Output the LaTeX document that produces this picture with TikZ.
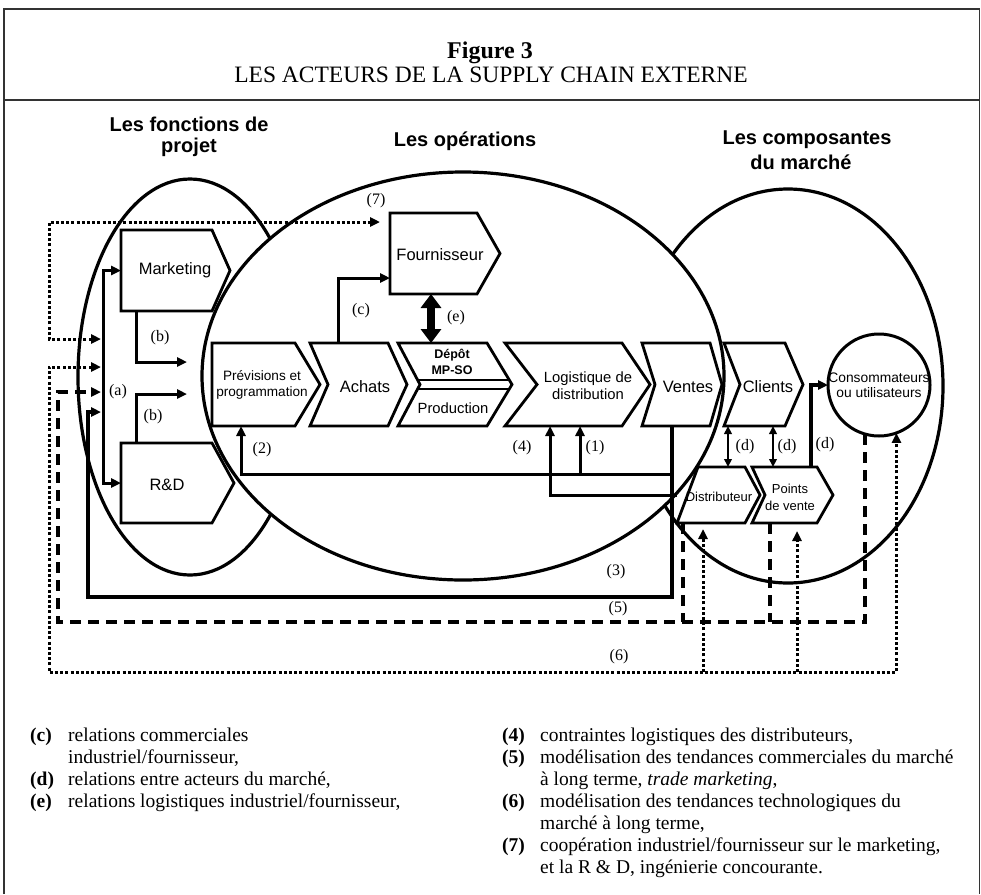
\documentclass[tikz,border=0pt]{standalone}
\usepackage{fontspec}
\setmainfont{Liberation Serif}
\newfontfamily\arialf{Liberation Sans}
\usetikzlibrary{arrows.meta,calc}
\newcommand\chevpath[3]{\draw[boxl] (#1.north west) -- (#1.north east) -- ($(#1.east)+(#3,0)$) -- (#1.south east) -- (#1.south west) -- ($(#1.west)+(#2,0)$) -- cycle;}
\tikzset{
 tri/.tip={Triangle[length=10pt,width=9pt]},
 stri/.tip={Triangle[length=8pt,width=7.5pt]},
 bigtri/.tip={Triangle[length=14pt,width=20pt]},
 ph/.style={inner sep=0pt, outer sep=0pt, draw=none},
 boxl/.style={line width=2.8pt, line join=miter, miter limit=20},
 ell/.style={line width=3.2pt},
 conn/.style={line width=3pt},
 thinc/.style={line width=2.4pt},
 thk/.style={line width=4.6pt},
 dotl/.style={line width=3pt, dash pattern=on 3pt off 2.2pt},
 dashl/.style={line width=3.4pt, dash pattern=on 11pt off 7pt},
 btxt/.style={font=\arialf\fontsize{16.5}{19}\selectfont, align=center, inner sep=0pt},
 mtxt/.style={font=\arialf\fontsize{14.8}{17}\selectfont, align=center, inner sep=0pt},
 stxt/.style={font=\arialf\fontsize{13.6}{16}\selectfont, align=center, inner sep=0pt},
 lab/.style={font=\fontsize{16}{18}\selectfont, inner sep=0pt},
 head/.style={font=\arialf\bfseries\fontsize{20}{23}\selectfont, anchor=base, inner sep=0pt},
 leg/.style={font=\fontsize{19.5}{22}\selectfont, anchor=base west, inner sep=0pt},
 legb/.style={font=\bfseries\fontsize{19.5}{22}\selectfont, anchor=base west, inner sep=0pt},
}
\begin{document}
\begin{tikzpicture}[x=1pt,y=-1pt]
\useasboundingbox (0,0) rectangle (981,894);
% frame
\draw[line width=1.8pt, draw=black!80] (4,894) -- (4,9) -- (979.5,9) -- (979.5,894);
\draw[line width=1.8pt, draw=black!80] (4,100) -- (979.5,100);
\node[font=\bfseries\fontsize{24}{28}\selectfont, anchor=base, inner sep=0pt] (fig) at (490,58) {Figure 3};
\node[font=\fontsize{23.5}{28}\selectfont, anchor=base, inner sep=0pt] (sub) at (491,82) {LES ACTEURS DE LA SUPPLY CHAIN EXTERNE};
% headings
\node[head] (h1a) at (189,131) {Les fonctions de};
\node[head] (h1b) at (189,152) {projet};
\node[head] (h2) at (465,146) {Les opérations};
\node[head] (h3a) at (807,144) {Les composantes};
\node[head] (h3b) at (801,169) {du marché};
% ellipses (left and right first, centre one on top, filled)
\draw[ell] (190,377) ellipse [x radius=112pt, y radius=198pt];
\draw[ell] (788,386) ellipse [x radius=155pt, y radius=197pt];
\draw[ell, fill=white] (463,376) ellipse [x radius=261pt, y radius=204pt];
% box placeholders
\node[ph, minimum width=83pt, minimum height=83pt] (prev) at (253.5,384.5) {};
\node[ph, minimum width=78pt, minimum height=83pt] (ach) at (349,384.5) {};
\node[ph, minimum width=89pt, minimum height=83pt] (dep) at (442.5,384.5) {};
\node[ph, minimum width=117pt, minimum height=83pt] (log) at (563.5,384.5) {};
\node[ph, minimum width=68pt, minimum height=83pt] (ven) at (676,384.5) {};
\node[ph, minimum width=61pt, minimum height=83pt] (cli) at (754.5,384.5) {};
\node[ph, minimum width=87pt, minimum height=81pt] (four) at (433.5,253.5) {};
\node[ph, minimum width=91pt, minimum height=81pt] (mkt) at (166.5,270.5) {};
\node[ph, minimum width=91pt, minimum height=80pt] (rd) at (166.5,483) {};
\node[ph, minimum width=65pt, minimum height=56pt] (pdv) at (784.5,495) {};
\node[ph, minimum width=68pt, minimum height=56pt] (dist) at (711,495) {};
\node[circle, draw, line width=3pt, minimum size=102pt, inner sep=0pt, outer sep=0pt] (cons) at (879,385) {};
% shapes
\chevpath{prev}{0}{25}
\chevpath{ach}{18}{19}
\chevpath{dep}{22}{25}
\chevpath{log}{32}{28}
\chevpath{ven}{13}{12}
\chevpath{cli}{16}{18}
\chevpath{four}{0}{23}
\chevpath{mkt}{0}{18}
\chevpath{rd}{0}{22}
\chevpath{pdv}{13}{16}
\draw[boxl] ($(dist.north west)+(21,0)$) -- (dist.north east) -- ($(dist.east)+(15,0)$) -- (dist.south east) -- (dist.south west) -- cycle;
\draw[boxl] ($(dep.west)+(19.6,-4.5)$) -- ($(dep.east)+(22.3,-4.5)$);
\draw[boxl] ($(dep.west)+(19.6,4.5)$) -- ($(dep.east)+(22.3,4.5)$);
% texts
\node[stxt] (prevT) at (262,385) {Prévisions et\\programmation};
\node[btxt] (achT) at (365,387) {Achats};
\node[font=\arialf\bfseries\fontsize{12.5}{16}\selectfont, align=center, inner sep=0pt] (depT) at (452,362) {Dépôt\\MP-SO};
\node[mtxt] (prodT) at (453,408) {Production};
\node[mtxt] (logT) at (588,386) {Logistique de\\distribution};
\node[btxt] (venT) at (688,387) {Ventes};
\node[btxt] (cliT) at (768,387) {Clients};
\node[btxt] (fourT) at (440,255) {Fournisseur};
\node[btxt] (mktT) at (175,270) {Marketing};
\node[btxt] (rdT) at (167,485) {R\&D};
\node[font=\arialf\fontsize{13}{17}\selectfont, inner sep=0pt] (distT) at (719,497) {Distributeur};
\node[font=\arialf\fontsize{13}{17}\selectfont, align=center, inner sep=0pt] (pdvT) at (790,497) {Points\\de vente};
\node[font=\arialf\fontsize{13.8}{15}\selectfont, align=center, inner sep=0pt] (consT) at (879,385) {Consommateurs\\ou utilisateurs};
% coordinates
\coordinate (a7) at (101,339);
\coordinate (a6) at (101,367);
\coordinate (a5) at (101,392);
\coordinate (a3) at (101,412);
\coordinate (b6) at (49,672);
\coordinate (b5) at (58,622);
\coordinate (y474) at (0,474);
\coordinate (b1) at (187,362);
\coordinate (b2) at (187,394);
% (a) bar
\draw[conn, tri-tri] (mkt.west) -- ++(-18,0) |- (rd.west);
% (7)
\draw[dotl, tri-tri] (a7) -| (49,222) -- ($(four.north west)+(-10,9)$);
% (6)
\draw[dotl, tri-tri] (a6) -| (b6) -| (cons.-70);
\coordinate (t6a) at ($(dist.south)+(-8,6)$);
\coordinate (t6b) at ($(pdv.south)+(12.5,8)$);
\draw[dotl,-tri] (t6a |- b6) -- (t6a);
\draw[dotl,-tri] (t6b |- b6) -- (t6b);
% (5)
\draw[dashl, -tri] (cons.-106) |- (b5) |- (a5);
\coordinate (t5a) at ($(dist.south west)+(6,0)$);
\coordinate (t5b) at ($(pdv.south)+(-14.5,0)$);
\draw[dashl] (t5a) -- (t5a |- b5);
\draw[dashl] (t5b) -- (t5b |- b5);
% (3)
\coordinate (v3) at ($(ven.south)+(-4,0)$);
\draw[thk, -tri] (v3) |- (88,597) |- (a3);
% (1) (2)
\draw[conn, -tri] (v3 |- y474) -| ($(prev.south)+(-12.5,0)$);
\draw[conn, -tri] ($(log.south)+(16.5,48)$) -- ($(log.south)+(16.5,0)$);
% (4)
\draw[conn, -tri] (dist.west) -| ($(log.south)+(-13.5,0)$);
% (b)
\draw[conn,-tri] ($(mkt.south)+(-30.5,0)$) |- (b1);
\draw[conn,-tri] ($(rd.north)+(-30.5,0)$) |- (b2);
% (c)
\draw[conn,-tri] ($(ach.north)+(-11,0)$) |- ($(four.west)+(0,24.5)$);
% (e)
\draw[line width=8pt, bigtri-bigtri] ($(four.south)+(-2.5,0)$) -- ($(dep.north)+(-11.5,0)$);
% (d)
\coordinate (d1) at ($(cli.south)+(-26.5,0)$);
\coordinate (d2) at ($(cli.south)+(18.5,0)$);
\draw[thinc, stri-stri] (d1) -- (d1 |- dist.north);
\draw[thinc, stri-stri] (d2) -- (d2 |- pdv.north);
\draw[thk,-tri] ($(pdv.north)+(26.5,0)$) |- (cons.west);
% labels
\node[lab] (l7) at (376,201) {(7)};
\node[lab] (lc) at (361,311) {(c)};
\node[lab] (le) at (456,318) {(e)};
\node[lab] (lb1) at (160,338) {(b)};
\node[lab] (lb2) at (153,417) {(b)};
\node[lab] (la) at (118,392) {(a)};
\node[lab] (l2) at (262,450) {(2)};
\node[lab] (l4) at (522,448) {(4)};
\node[lab] (l1) at (595,448) {(1)};
\node[lab] (ld1) at (745,447) {(d)};
\node[lab] (ld2) at (787,447) {(d)};
\node[lab] (ld3) at (825,445) {(d)};
\node[lab] (l3) at (616,572) {(3)};
\node[lab] (l5) at (618,609) {(5)};
\node[lab] (l6) at (619,657) {(6)};
% legend left
\node[legb] (kc) at (30,741) {(c)};
\node[leg] (tc1) at (68,741) {relations commerciales};
\node[leg] (tc2) at (68,763) {industriel/fournisseur,};
\node[legb] (kd) at (30,785) {(d)};
\node[leg] (td) at (68,785) {relations entre acteurs du marché,};
\node[legb] (ke) at (30,807) {(e)};
\node[leg] (te) at (68,807) {relations logistiques industriel/fournisseur,};
% legend right
\node[legb] (k4) at (502,741) {(4)};
\node[leg] (t4) at (540,741) {contraintes logistiques des distributeurs,};
\node[legb] (k5) at (502,763) {(5)};
\node[leg] (t5a) at (540,763) {modélisation des tendances commerciales du marché};
\node[leg] (t5b) at (540,785) {à long terme, \textit{trade marketing},};
\node[legb] (k6) at (502,807) {(6)};
\node[leg] (t6a) at (540,807) {modélisation des tendances technologiques du};
\node[leg] (t6b) at (540,829) {marché à long terme,};
\node[legb] (k7) at (502,851) {(7)};
\node[leg] (t7a) at (540,851) {coopération industriel/fournisseur sur le marketing,};
\node[leg] (t7b) at (540,873) {et la R \& D, ingénierie concourante.};
\end{tikzpicture}
\end{document}
